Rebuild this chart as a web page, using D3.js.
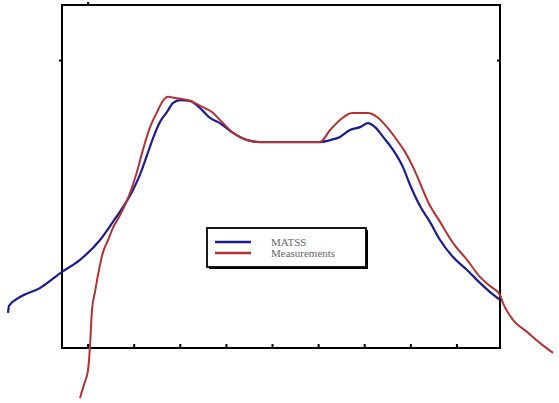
<!DOCTYPE html>
<html>
<head>
<meta charset="utf-8">
<script src="https://cdn.jsdelivr.net/npm/d3@7"></script>
<style>
  html, body { margin: 0; padding: 0; background: #fff; }
  svg { display: block; }
</style>
</head>
<body>
<svg id="chart" width="559" height="403"></svg>
<script>
// ---- data (position in mm, relative dose in %) ----
const matssX = [-114.5,-114.1,-109.3,-100.7,-91.1,-83.3,-74.6,-69.0,-64.6,-60.3,-57.3,-54.2,-51.6,-48.6,-45.6,-42.9,-39.9,-35.6,-31.2,-26.9,-22.6,-16.9,-10.8,-5.2,7.8,20.8,25.2,29.5,33.8,38.2,41.6,44.7,48.2,52.5,56.8,59.9,64.2,68.5,72.9,78.5,84.6,90.2,94.6,98.9];
const matssY = [12.2,14.6,17.7,20.8,26.4,30.6,37.5,43.8,49.0,54.9,60.1,67.0,72.9,78.5,81.9,85.1,86.1,85.8,83.3,79.9,78.1,74.7,72.2,71.5,71.5,71.5,72.2,73.3,75.7,76.7,78.1,76.7,73.3,68.8,62.8,56.6,49.3,43.8,37.5,31.6,27.1,22.6,19.4,16.7];

const measX = [-83.3,-81.6,-79.8,-79.0,-78.1,-76.8,-75.5,-73.3,-71.1,-69.0,-65.9,-61.6,-58.6,-56.0,-52.9,-49.9,-47.3,-45.1,-42.1,-36.9,-32.5,-29.1,-26.0,-22.6,-16.9,-10.8,-5.2,3.5,12.1,20.8,25.2,29.5,34.7,41.6,45.6,49.9,54.2,57.7,61.2,64.2,67.7,72.9,78.5,84.6,90.2,94.6,98.9,100.2,104.6,110.6,116.3,121.9];
const measY = [-17.4,-12.8,-7.6,0,13.2,19.4,25.3,33.3,37.5,41.7,46.2,53.8,61.1,68.8,76.7,81.9,85.8,87.2,86.8,86.1,84.7,83.3,81.9,79.2,74.7,72.2,71.5,71.5,71.5,71.5,75.7,79.2,81.6,81.6,80.2,76.7,72.2,68.1,62.8,57.3,50.7,43.8,36.5,30.6,24.7,21.5,18.4,15.6,9.7,5.6,1.7,-1.7];

const xTicks = [-80,-60,-40,-20,0,20,40,60,80];
const yTicks = [100];
const seriesNames = ["MATSS","Measurements"];
const seriesColors = ["#1c1c8e","#b23234"];

// ---- layout ----
const svg = d3.select("#chart");
const m = {left: 62, top: 5, right: 59, bottom: 55};
const W = 559 - m.left - m.right, H = 403 - m.top - m.bottom;

const x = d3.scaleLinear().domain([-91.1, 98.9]).range([m.left, m.left + W]);
const y = d3.scaleLinear().domain([0, 119.1]).range([m.top + H, m.top]);

// frame
svg.append("rect")
  .attr("x", m.left).attr("y", m.top).attr("width", W).attr("height", H)
  .attr("fill", "none").attr("stroke", "#000").attr("stroke-width", 2);

// ticks (inward, no labels)
const gb = svg.append("g").attr("transform", `translate(0,${m.top + H})`)
  .call(d3.axisBottom(x).tickValues(xTicks).tickSize(-4).tickFormat(""));
const gt = svg.append("g").attr("transform", `translate(0,${m.top})`)
  .call(d3.axisTop(x).tickValues([-80]).tickSize(3).tickFormat(""));
const gl = svg.append("g").attr("transform", `translate(${m.left},0)`)
  .call(d3.axisLeft(y).tickValues(yTicks).tickSize(3).tickFormat(""));
const gr = svg.append("g").attr("transform", `translate(${m.left + W},0)`)
  .call(d3.axisRight(y).tickValues(yTicks).tickSize(-3).tickFormat(""));
[gb, gt, gl, gr].forEach(g => {
  g.select(".domain").remove();
  g.selectAll(".tick line").attr("stroke", "#000").attr("stroke-width", 2);
});

// lines
const line = d3.line().x(d => x(d[0])).y(d => y(d[1])).curve(d3.curveMonotoneX);
const series = [
  d3.zip(matssX, matssY),
  d3.zip(measX, measY)
];
svg.append("path").datum(series[0]).attr("d", line)
  .attr("fill", "none").attr("stroke", seriesColors[0]).attr("stroke-width", 2.2);
svg.append("path").datum(series[1]).attr("d", line)
  .attr("fill", "none").attr("stroke", seriesColors[1]).attr("stroke-width", 2);

// legend
const lg = svg.append("g").attr("transform", "translate(207,228)");
lg.append("rect").attr("x", 2).attr("y", 2).attr("width", 159).attr("height", 39).attr("fill", "#000");
lg.append("rect").attr("width", 159).attr("height", 39)
  .attr("fill", "#fff").attr("stroke", "#000").attr("stroke-width", 1.8);
seriesNames.forEach((name, i) => {
  const yy = 14 + i * 11;
  lg.append("line").attr("x1", 8).attr("x2", 44).attr("y1", yy).attr("y2", yy)
    .attr("stroke", seriesColors[i]).attr("stroke-width", 2.5);
  lg.append("text").attr("x", 64).attr("y", yy + 4).text(name)
    .attr("font-family", "Liberation Serif, serif").attr("font-size", 11)
    .attr("fill", "#666");
});
</script>
</body>
</html>
